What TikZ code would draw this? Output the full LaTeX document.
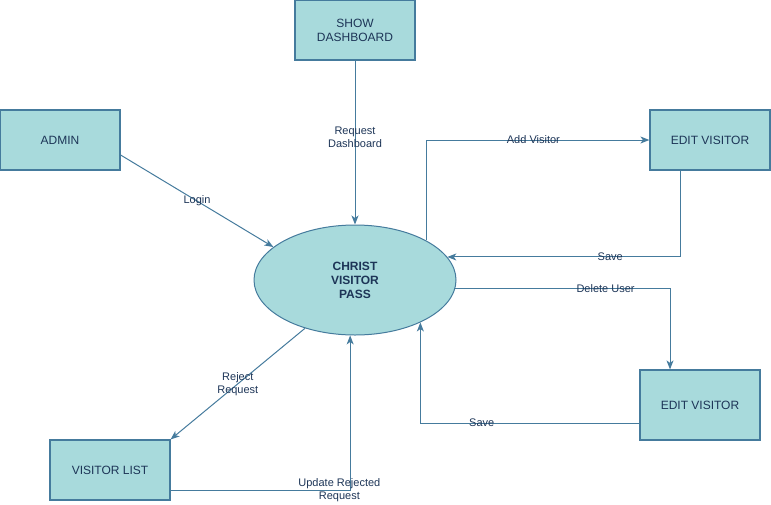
\documentclass[tikz,border=0pt]{standalone}
\usepackage{fontspec}
\setmainfont{Liberation Sans}
\usetikzlibrary{arrows.meta,calc,shapes.geometric}
\definecolor{boxFill}{HTML}{A8DADC}
\definecolor{boxLine}{HTML}{457B9D}
\definecolor{boxText}{HTML}{1D3557}
\begin{document}
\begin{tikzpicture}
[x=1pt,y=-1pt,
  boxDecorate/.style={shape=rectangle,draw=boxLine,fill=boxFill,line width=1.2pt,
    minimum width=120pt,minimum height=60pt,align=center,text=boxText,
    font=\fontsize{12}{14}\selectfont},%
  passDecorate/.style={shape=ellipse,draw=boxLine,fill=boxFill,line width=1pt,
    minimum width=202pt,minimum height=110pt,align=center,text=boxText,
    font=\fontsize{12}{14}\selectfont\bfseries},%
  lineDecorate/.style={draw=boxLine,line width=1pt,-{Stealth[length=9pt,width=7pt,inset=2.5pt]}},%
  labelDecorate/.style={text=boxText,align=center,inner sep=0pt,
    font=\fontsize{11}{13}\selectfont}]
\useasboundingbox (0,0) rectangle (771,504);
%% nodes or vertices
\foreach \nodename/\x/\y/\txt in {dashboard/355/30/{SHOW\\DASHBOARD}, admin/60/140/ADMIN,
  editA/710/140/{EDIT VISITOR}, list/110/470/{VISITOR LIST}} {
  \node (\nodename) at (\x,\y) [boxDecorate] {\txt};
}
\node (editB) at (700,405) [boxDecorate,minimum height=70pt] {EDIT VISITOR};
\node (pass) at (355,280) [passDecorate] {CHRIST\\VISITOR\\PASS};
%% edges or lines
\draw[lineDecorate] (dashboard.south) -- node[labelDecorate,pos=0.47] {Request\\Dashboard} (pass.north);
\draw[lineDecorate] ($(admin.east)+(0,15)$) -- node[labelDecorate] {Login} (pass.158);
\draw[lineDecorate] (pass.29) |- node[labelDecorate,pos=0.74] {Add Visitor} (editA.west);
\draw[lineDecorate] ($(editA.south)+(-30,0)$) |- node[labelDecorate,pos=0.65] {Save} (pass.14);
\draw[lineDecorate] (pass.-5) -| node[labelDecorate,pos=0.35] {Delete User} ($(editB.north)+(-30,0)$);
\draw[lineDecorate] ($(editB.west)+(0,18)$) -| node[labelDecorate,pos=0.36] {Save} (pass.-33);
\draw[lineDecorate] (pass.-136) -- node[labelDecorate] {Reject\\Request} (list.north east);
\draw[lineDecorate] ($(list.east)+(0,20)$) -| node[labelDecorate,pos=0.47] {Update Rejected\\Request} (pass.-95);
\end{tikzpicture}
\end{document}
